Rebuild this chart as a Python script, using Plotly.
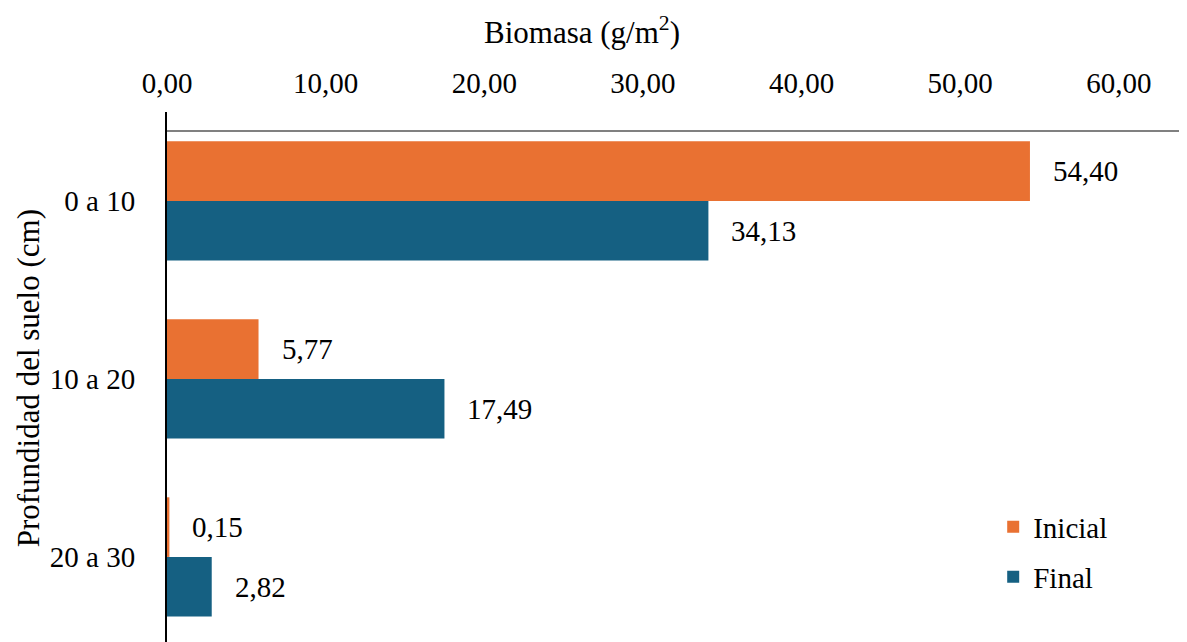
import plotly.graph_objects as go

# depth layers (cm) and biomass values (g/m2)
profundidad = ["0 a 10", "10 a 20", "20 a 30"]
inicial = [54.40, 5.77, 0.15]
final = [34.13, 17.49, 2.82]
x_ticks = [0, 10, 20, 30, 40, 50, 60]

NARANJA = "#E97132"
AZUL = "#156082"
FUENTE = "Liberation Serif, Times New Roman, serif"
TAM = 29
TAM_TITULO = 31


def etiqueta(v: float) -> str:
    return f"{v:.2f}".replace(".", ",")


def main() -> None:
    fig = go.Figure()

    fig.add_trace(
        go.Bar(
            y=profundidad,
            x=inicial,
            name="Inicial",
            orientation="h",
            marker=dict(color=NARANJA, line=dict(width=0)),
            legend="legend",
            showlegend=True,
        )
    )
    fig.add_trace(
        go.Bar(
            y=profundidad,
            x=final,
            name="Final",
            orientation="h",
            marker=dict(color=AZUL, line=dict(width=0)),
            legend="legend2",
            showlegend=True,
        )
    )

    # value labels next to each bar
    for serie, desplaz in ((inicial, 30), (final, -30)):
        for cat, v in zip(profundidad, serie):
            fig.add_annotation(
                x=v,
                y=cat,
                text=etiqueta(v),
                showarrow=False,
                xanchor="left",
                xshift=21,
                yshift=desplaz,
                font=dict(family=FUENTE, size=TAM, color="#000000"),
            )

    # axis titles
    fig.add_annotation(
        text="Biomasa (g/m<sup>2</sup>)",
        xref="paper",
        yref="paper",
        x=0.407,
        y=1.153,
        xanchor="center",
        yanchor="middle",
        showarrow=False,
        font=dict(family=FUENTE, size=TAM_TITULO, color="#000000"),
    )
    fig.add_annotation(
        text="Profundidad del suelo (cm)",
        xref="paper",
        yref="paper",
        x=-0.136,
        y=0.498,
        xanchor="center",
        yanchor="middle",
        textangle=-90,
        showarrow=False,
        font=dict(family=FUENTE, size=TAM_TITULO, color="#000000"),
    )

    # thin gray line under the top axis
    fig.add_shape(
        type="line",
        xref="paper",
        yref="paper",
        x0=0,
        x1=1,
        y0=0.964,
        y1=0.964,
        line=dict(color="#808080", width=2),
    )

    # page body has an 8px margin, so the figure is 8px smaller
    fig.update_layout(
        width=1179,
        height=634,
        margin=dict(l=159, r=0, t=104, b=0, autoexpand=False),
        paper_bgcolor="white",
        plot_bgcolor="white",
        barmode="group",
        bargap=0.33,
        bargroupgap=0,
        separators=",.",
        showlegend=True,
        font=dict(family=FUENTE, size=TAM, color="#000000"),
        legend=dict(
            x=0.81,
            y=0.217,
            xanchor="left",
            yanchor="middle",
            bgcolor="rgba(0,0,0,0)",
            itemwidth=30,
            font=dict(family=FUENTE, size=TAM),
        ),
        legend2=dict(
            visible=True,
            x=0.81,
            y=0.1226,
            xanchor="left",
            yanchor="middle",
            bgcolor="rgba(0,0,0,0)",
            itemwidth=30,
            font=dict(family=FUENTE, size=TAM),
        ),
        xaxis=dict(
            side="top",
            range=[0, 64.3],
            tickvals=x_ticks,
            tickformat=".2f",
            showgrid=False,
            zeroline=False,
            showline=False,
            ticks="",
            ticklabelstandoff=12,
            tickfont=dict(family=FUENTE, size=TAM),
        ),
        yaxis=dict(
            autorange=False,
            range=[2.478, -0.5],
            showgrid=False,
            zeroline=False,
            showline=True,
            linecolor="#000000",
            linewidth=2,
            ticks="",
            ticklabelstandoff=24,
            tickfont=dict(family=FUENTE, size=TAM),
        ),
    )

    fig.write_html("out.html")


if __name__ == "__main__":
    main()
